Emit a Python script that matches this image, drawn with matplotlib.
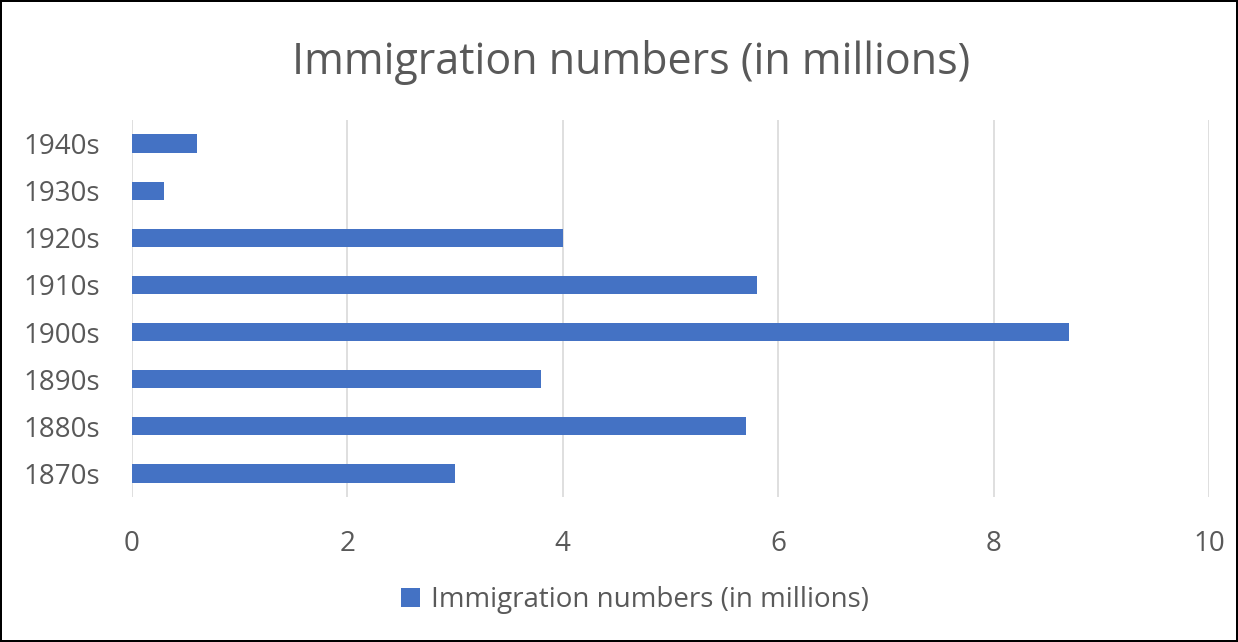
import matplotlib.pyplot as plt
from matplotlib.patches import Patch

DECADES = ['1870s', '1880s', '1890s', '1900s', '1910s', '1920s', '1930s', '1940s']
IMMIGRANTS = [3.0, 5.7, 3.8, 8.7, 5.8, 4.0, 0.3, 0.6]
X_TICKS = [0, 2, 4, 6, 8, 10]
LABEL = 'Immigration numbers (in millions)'

BLUE = '#4472C4'
TEXT = '#595959'
GRID = '#D9D9D9'

plt.rcParams['font.family'] = ['Open Sans', 'DejaVu Sans']

fig = plt.figure(figsize=(12.38, 6.42), dpi=100,
                 edgecolor='black', linewidth=1.5)
ax = fig.add_axes([0.1066, 0.226, 0.87, 0.587])

ax.barh(DECADES, IMMIGRANTS, height=0.39, color=BLUE, zorder=3)

ax.set_xlim(0, 10)
ax.set_ylim(-0.5, len(DECADES) - 0.5)
ax.set_xticks(X_TICKS)
ax.set_xticklabels([str(t) for t in X_TICKS])
ax.grid(axis='x', color=GRID, linewidth=1.2, zorder=0)
ax.tick_params(length=0, labelsize=20, colors=TEXT)
ax.tick_params(axis='y', pad=23)
ax.tick_params(axis='x', pad=24)
for spine in ax.spines.values():
    spine.set_visible(False)

fig.suptitle(LABEL, x=0.51, y=0.937, fontsize=31, color=TEXT)

handle = Patch(facecolor=BLUE)
fig.legend([handle], [LABEL], loc='center', bbox_to_anchor=(0.513, 0.065),
           frameon=False, fontsize=20, labelcolor=TEXT,
           handlelength=0.7, handleheight=0.7, handletextpad=0.4)

fig.savefig('out.png', dpi=100)
